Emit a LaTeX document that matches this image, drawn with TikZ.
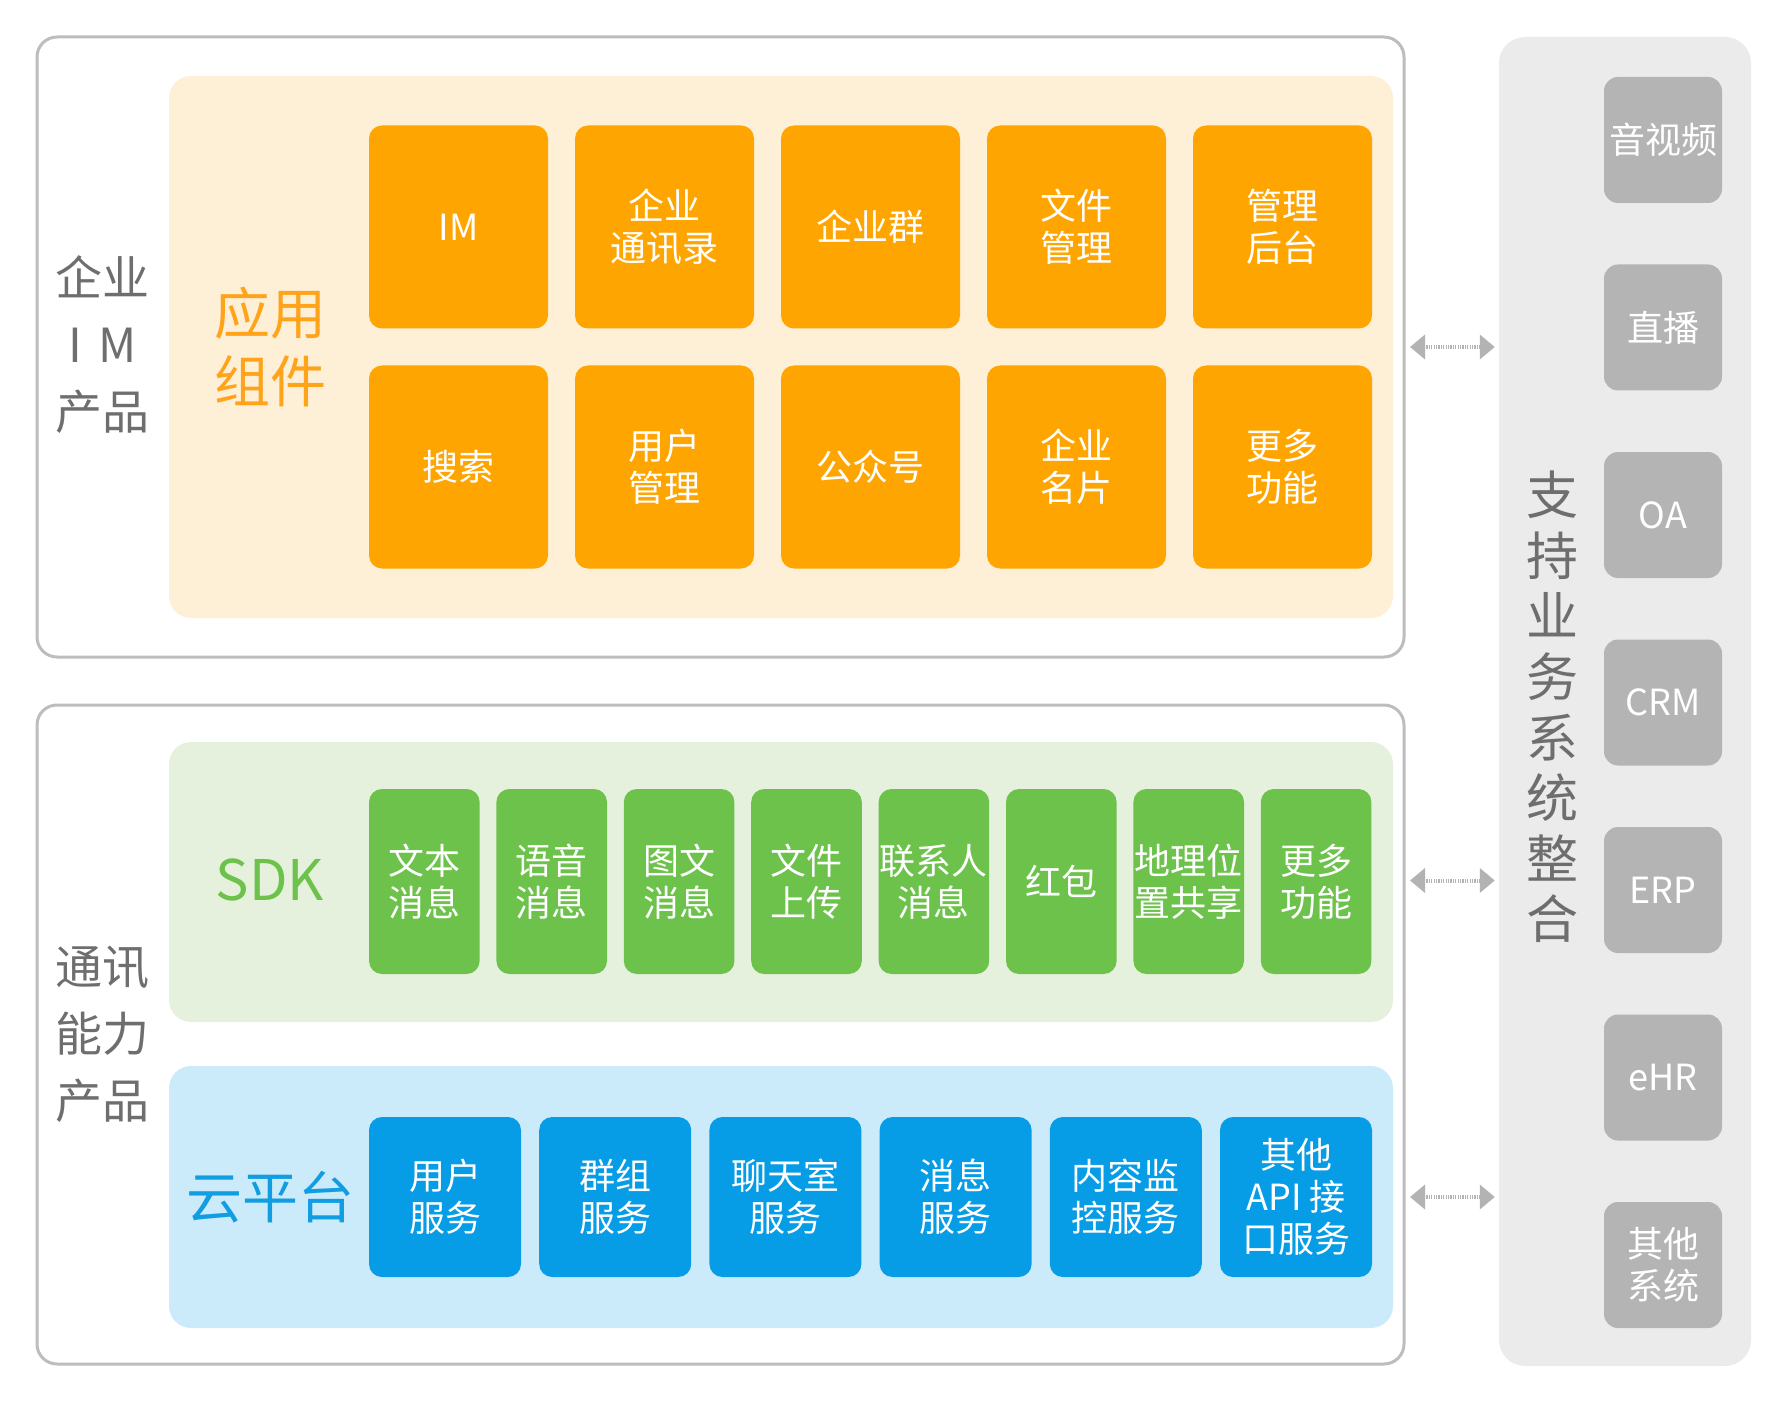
\documentclass[tikz,border=0pt]{standalone}
\usepackage{fontspec}
\setmainfont{Noto Sans CJK SC}
\usetikzlibrary{arrows.meta}
\definecolor{cborder}{HTML}{BDBDBD}
\definecolor{clabel}{HTML}{6E6E6E}
\definecolor{corange}{HTML}{FFA502}
\definecolor{corangebg}{HTML}{FEEFD7}
\definecolor{corangetx}{HTML}{FFA31A}
\definecolor{cgreen}{HTML}{6DC24B}
\definecolor{cgreenbg}{HTML}{E5F1DD}
\definecolor{cblue}{HTML}{069CE6}
\definecolor{cbluebg}{HTML}{CCEBFA}
\definecolor{cbluetx}{HTML}{109DE2}
\definecolor{cgraybg}{HTML}{EBEBEB}
\definecolor{cgraybox}{HTML}{B4B4B4}
\definecolor{carrow}{HTML}{B3B3B3}
\begin{document}
\begin{tikzpicture}[x=1pt,y=-1pt,
  outerbox/.style={draw=cborder, line width=3pt, rounded corners=20pt, inner sep=0pt},
  panelbox/.style={rounded corners=22pt, inner sep=0pt},
  tile/.style={rounded corners=13pt, text=white, align=center, inner sep=0pt,
    font=\fontsize{36}{42}\selectfont},
  otile/.style={tile, fill=corange, minimum width=179pt, minimum height=203pt},
  gtile/.style={tile, fill=cgreen, minimum width=110.6pt, minimum height=185pt},
  btile/.style={tile, fill=cblue, minimum width=152pt, minimum height=160pt},
  stile/.style={tile, fill=cgraybox, minimum width=118pt, minimum height=126pt, rounded corners=14pt},
  biglabel/.style={align=center, inner sep=0pt},
  biarrow/.style={draw=carrow, line width=4pt, dash pattern=on 1.2pt off 1.2pt,
    {Triangle[length=15pt,width=24pt]}-{Triangle[length=15pt,width=24pt]},
    shorten <=4.5pt, shorten >=4pt}
]
\useasboundingbox (0,0) rectangle (1786,1404);

% outer boxes
\node[outerbox, minimum width=1367pt, minimum height=620pt] (topbox) at (720.5,347) {};
\node[outerbox, minimum width=1367pt, minimum height=659pt] (lowbox) at (720.5,1034.5) {};

% side panel
\node[panelbox, fill=cgraybg, minimum width=252pt, minimum height=1329pt, rounded corners=26pt] (side) at (1625,701.5) {};

% orange panel
\node[panelbox, fill=corangebg, minimum width=1224pt, minimum height=542pt] (apppanel) at (781,347) {};
% green panel
\node[panelbox, fill=cgreenbg, minimum width=1224pt, minimum height=280pt] (sdkpanel) at (781,882) {};
% blue panel
\node[panelbox, fill=cbluebg, minimum width=1224pt, minimum height=262pt] (cloudpanel) at (781,1197) {};

% left labels
\node[biglabel, text=clabel, font=\fontsize{47}{67}\selectfont] (lab1) at (102.5,344.5) {企业\\I\hspace{0.35em}M\\产品};
\node[biglabel, text=clabel, font=\fontsize{47}{67}\selectfont] (lab2) at (102.5,1034) {通讯\\能力\\产品};

\node[biglabel, text=corangetx, font=\fontsize{56}{68}\selectfont] (applab) at (270,347) {应用\\组件};
\node[biglabel, text=cgreen, font=\fontsize{56}{68}\selectfont] (sdklab) at (270,880) {SDK};
\node[biglabel, text=cbluetx, font=\fontsize{56}{68}\selectfont] (cloudlab) at (270,1197) {云平台};

% orange tiles
\node[otile] (o1) at (458.5,227) {IM};
\node[otile] (o2) at (664.5,227) {企业\\通讯录};
\node[otile] (o3) at (870.5,227) {企业群};
\node[otile] (o4) at (1076.5,227) {文件\\管理};
\node[otile] (o5) at (1282.5,227) {管理\\后台};
\node[otile] (o6) at (458.5,467) {搜索};
\node[otile] (o7) at (664.5,467) {用户\\管理};
\node[otile] (o8) at (870.5,467) {公众号};
\node[otile] (o9) at (1076.5,467) {企业\\名片};
\node[otile] (o10) at (1282.5,467) {更多\\功能};

% green tiles
\node[gtile] (g1) at (424.3,881.5) {文本\\消息};
\node[gtile] (g2) at (551.7,881.5) {语音\\消息};
\node[gtile] (g3) at (679.1,881.5) {图文\\消息};
\node[gtile] (g4) at (806.5,881.5) {文件\\上传};
\node[gtile] (g5) at (933.9,881.5) {联系人\\消息};
\node[gtile] (g6) at (1061.3,881.5) {红包};
\node[gtile] (g7) at (1188.7,881.5) {地理位\\置共享};
\node[gtile] (g8) at (1316.1,881.5) {更多\\功能};

% blue tiles
\node[btile] (b1) at (445,1197) {用户\\服务};
\node[btile] (b2) at (615.2,1197) {群组\\服务};
\node[btile] (b3) at (785.4,1197) {聊天室\\服务};
\node[btile] (b4) at (955.6,1197) {消息\\服务};
\node[btile] (b5) at (1125.8,1197) {内容监\\控服务};
\node[btile] (b6) at (1296,1197) {其他\\API 接\\口服务};

% side label
\node[biglabel, text=clabel, font=\fontsize{52}{60.6}\selectfont] (sidelab) at (1552.5,707) {支\\持\\业\\务\\系\\统\\整\\合};

% side tiles
\node[stile] (s1) at (1663,140) {音视频};
\node[stile] (s2) at (1663,327.5) {直播};
\node[stile] (s3) at (1663,515) {OA};
\node[stile] (s4) at (1663,702.5) {CRM};
\node[stile] (s5) at (1663,890) {ERP};
\node[stile] (s6) at (1663,1077.5) {eHR};
\node[stile] (s7) at (1663,1265) {其他\\系统};

% arrows
\coordinate (ay1) at (0,347);
\coordinate (ay2) at (0,880.5);
\coordinate (ay3) at (0,1197);
\draw[biarrow] (topbox.east |- ay1) -- (side.west |- ay1);
\draw[biarrow] (lowbox.east |- ay2) -- (side.west |- ay2);
\draw[biarrow] (lowbox.east |- ay3) -- (side.west |- ay3);
\end{tikzpicture}
\end{document}
